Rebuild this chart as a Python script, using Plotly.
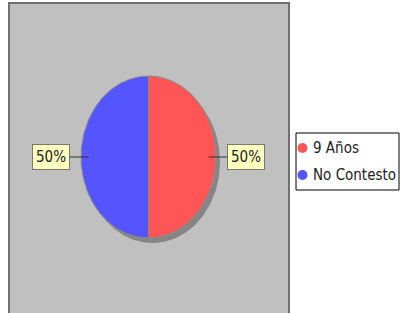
import numpy as np
import plotly.graph_objects as go

labels = ["9 Años", "No Contesto"]
values = [50, 50]
colors = ["#FF5555", "#5555FF"]

W, H = 401, 313
cx, cy, rx, ry = 148.5, 157.0, 67.5, 81.0
FONT = "DejaVu Sans Condensed, DejaVu Sans, sans-serif"

fig = go.Figure()

# plot panel
fig.add_shape(type="rect", x0=9, x1=289, y0=3, y1=316, fillcolor="#C0C0C0",
              line=dict(color="#707070", width=2), layer="below")

# shadow
t = np.linspace(0, 2 * np.pi, 240)
fig.add_trace(go.Scatter(x=cx + 4 + rx * np.cos(t), y=cy + 5 + ry * np.sin(t),
                         fill="toself", mode="lines", line=dict(width=0),
                         fillcolor="#858585", showlegend=False, hoverinfo="skip"))

total = float(sum(values))
cum = 0.0
annos = []
for lab, v, c in zip(labels, values, colors):
    a0 = np.pi / 2 - 2 * np.pi * cum / total
    a1 = np.pi / 2 - 2 * np.pi * (cum + v) / total
    th = np.linspace(a0, a1, 120)
    xs = np.concatenate([[cx], cx + rx * np.cos(th), [cx]])
    ys = np.concatenate([[cy], cy - ry * np.sin(th), [cy]])
    fig.add_trace(go.Scatter(x=xs, y=ys, fill="toself", mode="lines",
                             line=dict(color="#8C8C8C", width=1), fillcolor=c,
                             showlegend=False, hoverinfo="skip"))
    am = (a0 + a1) / 2
    px = cx + 0.89 * rx * np.cos(am)
    py = cy - 0.89 * ry * np.sin(am)
    annos.append(dict(x=px, y=py, xref="x", yref="y",
                      text=f"{v / total * 100:.0f}%", showarrow=True,
                      arrowhead=0, arrowwidth=1, arrowcolor="#333333",
                      ax=37 * np.cos(am), ay=-37 * np.sin(am),
                      bgcolor="#FFFFC0", bordercolor="#7A7A6A", borderwidth=1,
                      borderpad=3, font=dict(family=FONT, size=15, color="#222222")))
    cum += v

# manual legend
lx0, ly0, lx1, ly1 = 296, 133, 399, 190
fig.add_shape(type="rect", x0=lx0, x1=lx1, y0=ly0, y1=ly1, fillcolor="white",
              line=dict(color="black", width=1))
for i, (lab, c) in enumerate(zip(labels, colors)):
    yy = 148 + 27 * i
    fig.add_shape(type="circle", x0=297.5, x1=307.5, y0=yy - 5, y1=yy + 5,
                  fillcolor=c, line=dict(width=0))
    annos.append(dict(x=311, y=yy, xref="x", yref="y", text=lab, showarrow=False,
                      xanchor="left", yanchor="middle",
                      font=dict(family=FONT, size=15, color="#222222")))

fig.update_layout(
    width=W, height=H,
    margin=dict(l=0, r=0, t=0, b=0),
    paper_bgcolor="white", plot_bgcolor="white",
    xaxis=dict(range=[0, W], visible=False, fixedrange=True),
    yaxis=dict(range=[H, 0], visible=False, fixedrange=True),
    annotations=annos,
    showlegend=False,
)

fig.write_html("out.html", config=dict(displayModeBar=False),
               post_script="document.body.style.margin='0';document.body.style.overflow='hidden';")
